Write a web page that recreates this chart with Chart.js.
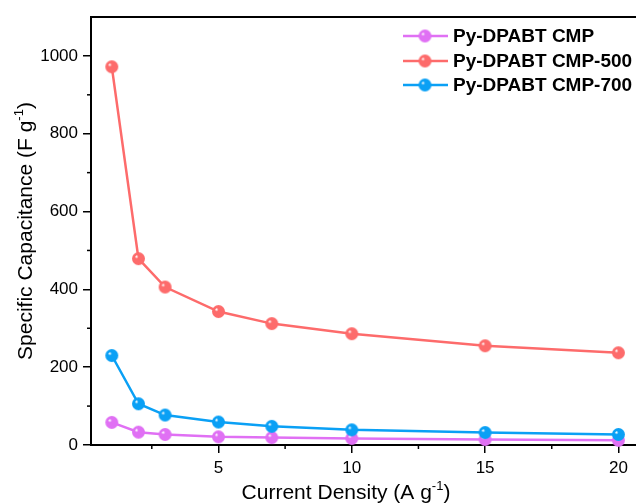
<!DOCTYPE html>
<html>
<head>
<meta charset="utf-8">
<script src="https://cdn.jsdelivr.net/npm/chart.js@4/dist/chart.umd.min.js"></script>
<style>
html,body{margin:0;padding:0;background:#fff;}
#c{display:block;}
</style>
</head>
<body>
<canvas id="c" width="636" height="503"></canvas>
<script>
// ---- data ----
const currentDensity = [1, 2, 3, 5, 7, 10, 15, 20];
const seriesNames = ["Py-DPABT CMP", "Py-DPABT CMP-500", "Py-DPABT CMP-700"];
const cmp    = [58, 33, 27, 21, 19, 17, 14, 12];
const cmp500 = [972, 479, 406, 343, 312, 286, 255, 237];
const cmp700 = [230, 106, 77, 59, 48, 39, 32, 27];
const xTicks = [5, 10, 15, 20];
const xMinorTicks = [2.5, 7.5, 12.5, 17.5];
const yTicks = [0, 200, 400, 600, 800, 1000];
const yMinorTicks = [100, 300, 500, 700, 900];
const colors = ["#e070f4", "#fd6b6b", "#0aa0f5"];

function sphere(color, r) {
  const s = Math.ceil(r * 2 + 2);
  const cv = document.createElement('canvas');
  cv.width = s; cv.height = s;
  const g = cv.getContext('2d');
  const c = s / 2;
  const grad = g.createRadialGradient(c - r * 0.35, c - r * 0.35, r * 0.05, c, c, r);
  grad.addColorStop(0, '#ffffff');
  grad.addColorStop(0.25, color);
  grad.addColorStop(1, color);
  g.fillStyle = grad;
  g.beginPath(); g.arc(c, c, r, 0, Math.PI * 2); g.fill();
  return cv;
}

const allSeries = [cmp, cmp500, cmp700];
const datasets = allSeries.map((vals, i) => ({
  label: seriesNames[i],
  data: currentDensity.map((x, k) => ({x: x, y: vals[k]})),
  borderColor: colors[i],
  backgroundColor: colors[i],
  borderWidth: 2.5,
  pointStyle: sphere(colors[i], 6.5),
  pointRadius: 6.5,
  tension: 0,
  clip: false,
  order: 3 - i
}));

const FONT = "'Liberation Sans', Arial, sans-serif";

function drawSupText(ctx, parts, x, y, size) {
  ctx.font = size + "px " + FONT;
  const w1 = ctx.measureText(parts[0]).width;
  ctx.font = Math.round(size * 0.62) + "px " + FONT;
  const w2 = ctx.measureText(parts[1]).width;
  ctx.font = size + "px " + FONT;
  const w3 = ctx.measureText(parts[2]).width;
  const total = w1 + w2 + w3;
  let sx = x - total / 2;
  ctx.textAlign = 'left';
  ctx.textBaseline = 'alphabetic';
  ctx.fillStyle = '#000';
  ctx.fillText(parts[0], sx, y);
  ctx.font = Math.round(size * 0.62) + "px " + FONT;
  ctx.fillText(parts[1], sx + w1, y - size * 0.42);
  ctx.font = size + "px " + FONT;
  ctx.fillText(parts[2], sx + w1 + w2, y);
}

const decor = {
  id: 'decor',
  afterDraw(chart) {
    const ctx = chart.ctx;
    const a = chart.chartArea;
    const xs = chart.scales.x, ys = chart.scales.y;
    ctx.save();
    ctx.strokeStyle = '#000';
    ctx.lineWidth = 2;
    ctx.beginPath(); ctx.moveTo(a.left - 1, a.top); ctx.lineTo(a.right, a.top); ctx.stroke();
    ctx.lineWidth = 1.5;
    yMinorTicks.forEach(v => {
      const py = ys.getPixelForValue(v);
      ctx.beginPath(); ctx.moveTo(a.left - 4, py); ctx.lineTo(a.left, py); ctx.stroke();
    });
    xMinorTicks.forEach(v => {
      const px = xs.getPixelForValue(v);
      ctx.beginPath(); ctx.moveTo(px, a.bottom); ctx.lineTo(px, a.bottom + 4); ctx.stroke();
    });
    drawSupText(ctx, ["Current Density (A g", "-1", ")"], 346, 499, 21);
    ctx.save();
    ctx.translate(32, (a.top + a.bottom) / 2);
    ctx.rotate(-Math.PI / 2);
    drawSupText(ctx, ["Specific Capacitance (F g", "-1", ")"], 0, 0, 21);
    ctx.restore();
    const rowsY = [36, 61, 85];
    chart.data.datasets.forEach((ds, i) => {
      const y = rowsY[i];
      ctx.strokeStyle = ds.borderColor;
      ctx.lineWidth = 2.5;
      ctx.beginPath(); ctx.moveTo(403, y); ctx.lineTo(448, y); ctx.stroke();
      const img = ds.pointStyle;
      ctx.drawImage(img, 425 - img.width / 2, y - img.height / 2);
      ctx.fillStyle = '#000';
      ctx.font = "bold 19px " + FONT;
      ctx.textAlign = 'left';
      ctx.textBaseline = 'middle';
      ctx.fillText(ds.label, 453, y + 1);
    });
    ctx.restore();
  }
};

new Chart(document.getElementById('c'), {
  type: 'line',
  data: { datasets: datasets },
  options: {
    responsive: false,
    animation: false,
    devicePixelRatio: 1,
    layout: { autoPadding: false, padding: { top: 17, right: 0, left: 0, bottom: 0 } },
    plugins: { legend: { display: false }, tooltip: { enabled: false } },
    scales: {
      x: {
        type: 'linear',
        min: 0.22, max: 20.66,
        afterBuildTicks: s => { s.ticks = xTicks.map(v => ({value: v})); },
        afterFit: s => { s.height = 58; s.paddingRight = 0; s.paddingLeft = 0; },
        grid: { display: true, drawOnChartArea: false, drawTicks: true, tickLength: 8, color: '#000', lineWidth: 1.5 },
        border: { display: true, color: '#000', width: 2 },
        ticks: { color: '#000', font: { family: FONT, size: 17 }, padding: 5, maxRotation: 0, callback: v => String(v) }
      },
      y: {
        type: 'linear',
        min: 0, max: 1100,
        afterBuildTicks: s => { s.ticks = yTicks.map(v => ({value: v})); },
        afterFit: s => { s.width = 91; s.paddingTop = 0; s.paddingBottom = 0; },
        grid: { display: true, drawOnChartArea: false, drawTicks: true, tickLength: 8, color: '#000', lineWidth: 1.5 },
        border: { display: true, color: '#000', width: 2 },
        ticks: { color: '#000', font: { family: FONT, size: 17 }, padding: 5, callback: v => String(v) }
      }
    }
  },
  plugins: [decor]
});
</script>
</body>
</html>
